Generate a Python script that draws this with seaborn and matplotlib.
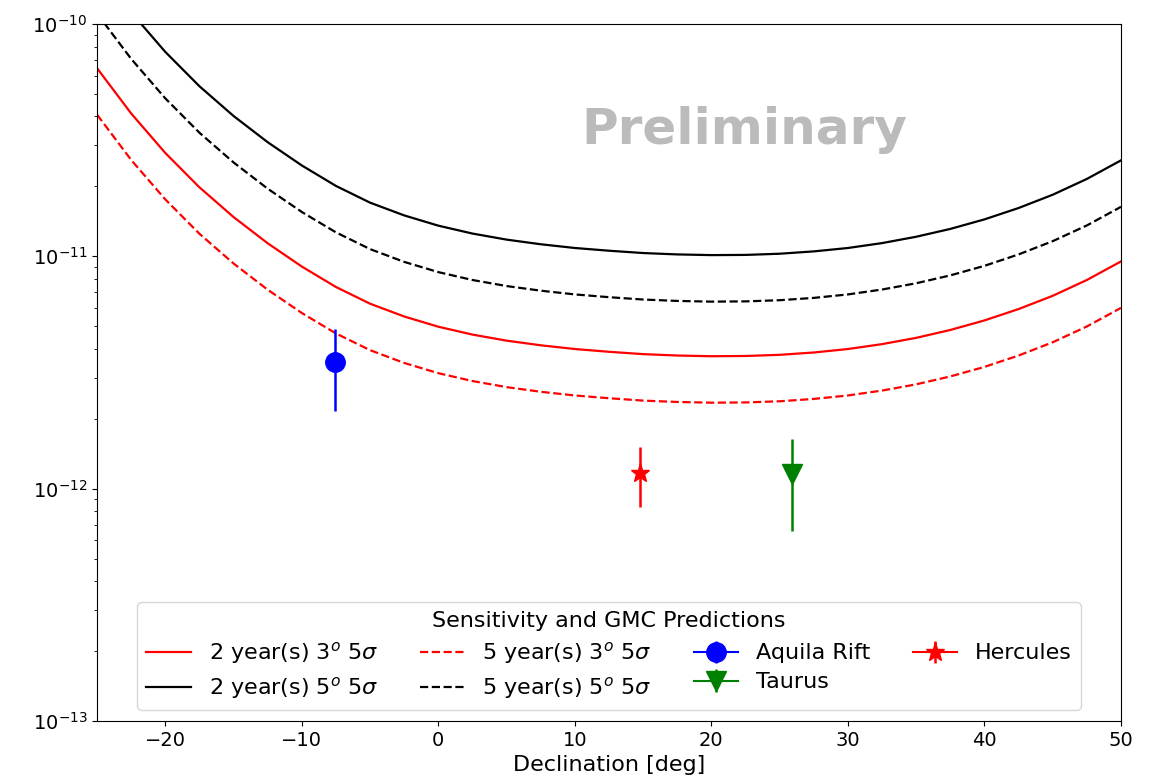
import matplotlib
matplotlib.use("Agg")
import matplotlib.pyplot as plt
import seaborn as sns
import pandas as pd

# ---- data ----
declination = [-25, -22.5, -20, -17.5, -15, -12.5, -10, -7.5, -5, -2.5, 0, 2.5, 5, 7.5,
               10, 12.5, 15, 17.5, 20, 22.5, 25, 27.5, 30, 32.5, 35, 37.5, 40, 42.5,
               45, 47.5, 50]

sens_2yr_3deg = [6.457e-11, 4.121e-11, 2.786e-11, 1.982e-11, 1.476e-11, 1.138e-11,
                 9.036e-12, 7.379e-12, 6.252e-12, 5.508e-12, 4.977e-12, 4.603e-12,
                 4.335e-12, 4.140e-12, 3.990e-12, 3.882e-12, 3.793e-12, 3.741e-12,
                 3.715e-12, 3.724e-12, 3.767e-12, 3.855e-12, 3.990e-12, 4.188e-12,
                 4.457e-12, 4.819e-12, 5.297e-12, 5.929e-12, 6.761e-12, 7.907e-12,
                 9.506e-12]

sens_2yr_5deg = [1.758e-10, 1.122e-10, 7.586e-11, 5.397e-11, 4.019e-11, 3.099e-11,
                 2.461e-11, 2.009e-11, 1.702e-11, 1.500e-11, 1.355e-11, 1.253e-11,
                 1.180e-11, 1.127e-11, 1.086e-11, 1.057e-11, 1.033e-11, 1.019e-11,
                 1.012e-11, 1.014e-11, 1.026e-11, 1.050e-11, 1.086e-11, 1.140e-11,
                 1.214e-11, 1.312e-11, 1.442e-11, 1.614e-11, 1.841e-11, 2.153e-11,
                 2.588e-11]

sens_5yr_3deg = [4.074e-11, 2.600e-11, 1.758e-11, 1.251e-11, 9.314e-12, 7.181e-12,
                 5.702e-12, 4.656e-12, 3.945e-12, 3.476e-12, 3.140e-12, 2.905e-12,
                 2.735e-12, 2.612e-12, 2.518e-12, 2.450e-12, 2.393e-12, 2.361e-12,
                 2.344e-12, 2.350e-12, 2.377e-12, 2.433e-12, 2.518e-12, 2.643e-12,
                 2.812e-12, 3.041e-12, 3.342e-12, 3.741e-12, 4.266e-12, 4.989e-12,
                 5.998e-12]

sens_5yr_5deg = [1.109e-10, 7.080e-11, 4.786e-11, 3.405e-11, 2.536e-11, 1.955e-11,
                 1.552e-11, 1.268e-11, 1.074e-11, 9.463e-12, 8.551e-12, 7.908e-12,
                 7.448e-12, 7.113e-12, 6.855e-12, 6.669e-12, 6.516e-12, 6.427e-12,
                 6.382e-12, 6.398e-12, 6.472e-12, 6.623e-12, 6.855e-12, 7.195e-12,
                 7.657e-12, 8.279e-12, 9.100e-12, 1.019e-11, 1.162e-11, 1.358e-11,
                 1.633e-11]

gmc_names = ["Aquila Rift", "Taurus", "Hercules"]
gmc_dec = [-7.6, 25.9, 14.8]
gmc_flux = [3.5e-12, 1.16e-12, 1.17e-12]
gmc_low = [2.16e-12, 6.6e-13, 8.3e-13]
gmc_high = [4.86e-12, 1.64e-12, 1.51e-12]

curve_labels = [r"2 year(s) $3^o$ $5\sigma$", r"2 year(s) $5^o$ $5\sigma$",
                r"5 year(s) $3^o$ $5\sigma$", r"5 year(s) $5^o$ $5\sigma$"]

# ---- figure ----
fig = plt.figure(figsize=(11.59, 7.84), dpi=100)
ax = fig.add_subplot(111)
fig.subplots_adjust(left=0.0837, right=0.9672, top=0.9694, bottom=0.0804)

curves = [(sens_2yr_3deg, "red", "-"), (sens_2yr_5deg, "black", "-"),
          (sens_5yr_3deg, "red", "--"), (sens_5yr_5deg, "black", "--")]
handles = []
for (vals, col, ls), lab in zip(curves, curve_labels):
    df = pd.DataFrame({"dec": declination, "flux": vals})
    sns.lineplot(data=df, x="dec", y="flux", color=col, linestyle=ls, linewidth=1.6,
                 ax=ax, label=lab, legend=False)
    handles.append(ax.lines[-1])

markers = {"Aquila Rift": ("o", "blue"), "Taurus": ("v", "green"), "Hercules": ("*", "red")}
gmc_handles = {}
for name, d, f, lo, hi in zip(gmc_names, gmc_dec, gmc_flux, gmc_low, gmc_high):
    m, c = markers[name]
    cont = ax.errorbar([d], [f], yerr=[[f - lo], [hi - f]], marker=m, color=c,
                       markersize=14, elinewidth=1.8, label=name)
    gmc_handles[name] = cont

ax.set_yscale("log")
ax.set_xlim(-25, 50)
ax.set_ylim(1e-13, 1e-10)
ax.set_xlabel("Declination [deg]", fontsize=16)
ax.set_ylabel("")
ax.tick_params(axis="both", which="major", labelsize=14)

ax.text(0.632, 0.848, "Preliminary", transform=ax.transAxes, fontsize=36,
        fontweight="bold", color="#bbbbbb", ha="center", va="center")

leg_handles = [handles[0], handles[1], handles[2], handles[3],
               gmc_handles["Aquila Rift"], gmc_handles["Taurus"], gmc_handles["Hercules"]]
leg_labels = [curve_labels[0], curve_labels[1], curve_labels[2], curve_labels[3],
              "Aquila Rift", "Taurus", "Hercules"]
ax.legend(leg_handles, leg_labels, loc="lower center", ncol=4, fontsize=16,
          title="Sensitivity and GMC Predictions", title_fontsize=16,
          columnspacing=1.9, labelspacing=0.4)

fig.savefig("out.png", dpi=100)
